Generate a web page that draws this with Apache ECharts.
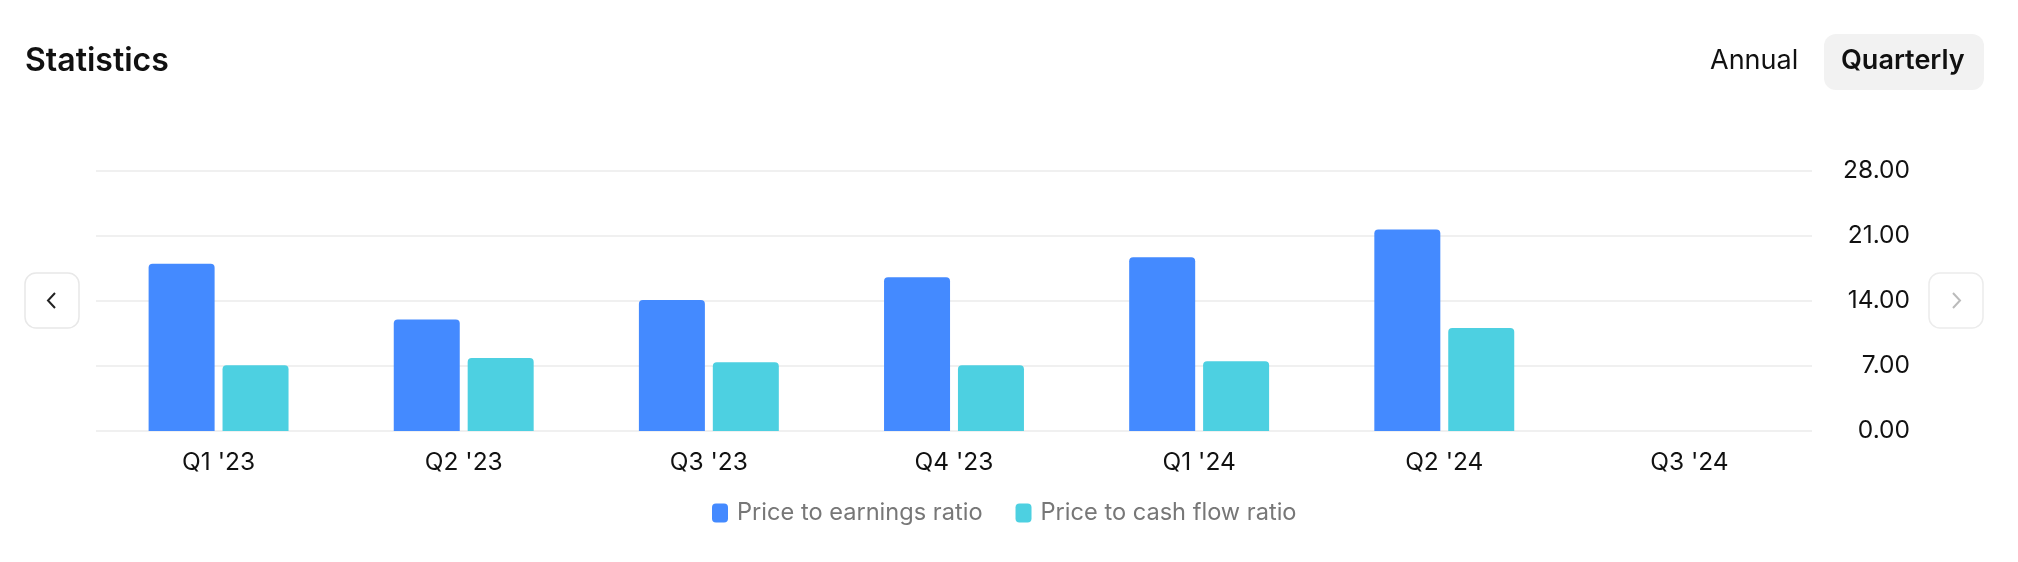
<!DOCTYPE html>
<html>
<head>
<meta charset="utf-8">
<script src="https://cdn.jsdelivr.net/npm/echarts@6/dist/echarts.min.js"></script>
<style>
  html, body { margin: 0; padding: 0; background: #fff; }
  #chart { width: 2018px; height: 562px; }
</style>
</head>
<body>
<div id="chart"></div>
<script>
// Statistics - quarterly ratios

var quarters = ["Q1 '23", "Q2 '23", "Q3 '23", "Q4 '23", "Q1 '24", "Q2 '24", "Q3 '24"];
var peRatio = [18.0, 12.0, 14.1, 16.55, 18.7, 21.7, null];
var pcfRatio = [7.07, 7.85, 7.4, 7.07, 7.5, 11.1, null];
var seriesNames = ['Price to earnings ratio', 'Price to cash flow ratio'];

var font = 'Inter, "Noto Sans", sans-serif';
var myChart = echarts.init(document.getElementById('chart'));

var option = {
  backgroundColor: '#fff',
  textStyle: { fontFamily: font },
  color: ['#448aff', '#4dd0e1'],
  title: {
    text: 'Statistics',
    left: 20,
    top: 40,
    textStyle: { color: '#111', fontSize: 32, fontWeight: 600, fontFamily: font }
  },
  legend: {
    left: 707,
    top: 496,
    itemWidth: 16,
    itemHeight: 19,
    itemGap: 33,
    icon: 'roundRect',
    textStyle: { color: '#777', fontSize: 23.6, padding: [0, 0, 0, 4] },
    data: seriesNames
  },
  grid: { left: 96, right: 206, top: 171, bottom: 131 },
  xAxis: {
    type: 'category',
    data: quarters,
    axisLine: { show: false },
    axisTick: { show: false },
    axisLabel: { color: '#111', fontSize: 24.5, margin: 19 }
  },
  yAxis: {
    type: 'value',
    position: 'right',
    min: 0,
    max: 28,
    interval: 7,
    axisLine: { show: false },
    axisTick: { show: false },
    splitLine: { lineStyle: { color: '#f0f0f0', width: 2 } },
    axisLabel: {
      color: '#111',
      fontSize: 24.5,
      align: 'right',
      margin: 98,
      padding: [6, 0, 0, 0],
      formatter: function (v) { return v.toFixed(2); }
    }
  },
  series: [
    {
      name: seriesNames[0],
      type: 'bar',
      data: peRatio,
      barWidth: 66,
      barGap: '12%',
      itemStyle: { borderRadius: [4, 4, 0, 0] }
    },
    {
      name: seriesNames[1],
      type: 'bar',
      data: pcfRatio,
      barWidth: 66,
      itemStyle: { borderRadius: [4, 4, 0, 0] }
    }
  ],
  graphic: [
    {
      type: 'text',
      left: 1710,
      top: 47,
      style: { text: 'Annual', fill: '#111', font: '400 27px ' + font }
    },
    {
      type: 'rect',
      shape: { x: 1824, y: 34, width: 160, height: 56, r: 12 },
      style: { fill: '#f2f2f2' }
    },
    {
      type: 'text',
      left: 1841,
      top: 47,
      style: { text: 'Quarterly', fill: '#111', font: '600 27px ' + font }
    },
    {
      type: 'rect',
      shape: { x: 25, y: 273, width: 54, height: 55, r: 11 },
      style: { fill: '#fff', stroke: '#e8e8e8', lineWidth: 1.5 }
    },
    {
      type: 'polyline',
      shape: { points: [[55, 293], [48, 300.5], [55, 308]] },
      style: { stroke: '#222', lineWidth: 2, fill: null }
    },
    {
      type: 'rect',
      shape: { x: 1929, y: 273, width: 54, height: 55, r: 11 },
      style: { fill: '#fff', stroke: '#ececec', lineWidth: 1.5 }
    },
    {
      type: 'polyline',
      shape: { points: [[1953, 293], [1960, 300.5], [1953, 308]] },
      style: { stroke: '#bbb', lineWidth: 2, fill: null }
    }
  ]
};
myChart.setOption(option);
</script>
</body>
</html>
